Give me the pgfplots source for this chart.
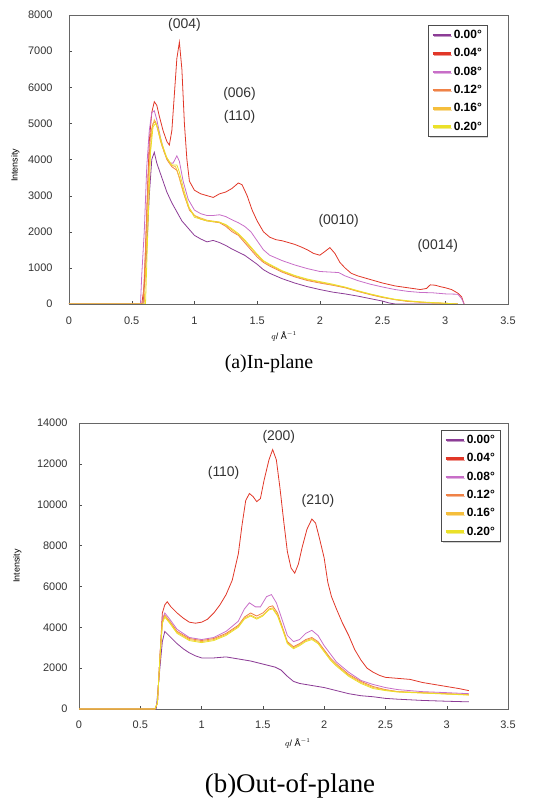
\documentclass[border=0pt]{standalone}
\usepackage{fontspec}
\setmainfont{Liberation Sans}
\newfontfamily\capfont{Liberation Serif}
\usepackage{pgfplots}
\pgfplotsset{compat=1.18}
\usetikzlibrary{shadows}

\definecolor{c00}{RGB}{140,60,150}
\definecolor{c04}{RGB}{225,55,40}
\definecolor{c08}{RGB}{200,110,200}
\definecolor{c12}{RGB}{240,130,70}
\definecolor{c16}{RGB}{245,190,60}
\definecolor{c20}{RGB}{235,225,40}

\pgfplotsset{
  xrd/.style={
    scale only axis,
    anchor=south west,
    xmin=0, xmax=3.5,
    xtick={0,0.5,...,3.5},
    ymin=0,
    scaled y ticks=false,
    axis line style={black!60, line width=0.6bp},
    tick style={black!70},
    tick align=inside,
    major tick length=3bp,
    xtick pos=bottom, ytick pos=left,
    /pgf/number format/assume math mode=true,
    /pgf/number format/set thousands separator={},
    ticklabel style={font=\fontsize{11}{12}\selectfont, text=black!80},
    xlabel={\fontsize{9}{10}\selectfont $q$/ Å$^{-1}$},
    ylabel={\fontsize{9}{10}\selectfont Intensity},
    every axis plot/.append style={line width=0.8bp, no marks},
    legend cell align=left,
    legend image code/.code={\draw[line width=2.5bp] (0bp,0bp) -- (18bp,0bp);},
    legend style={font=\fontsize{12}{13}\selectfont\bfseries, draw=black!70,
      fill=white, inner sep=3bp, row sep=4.5bp,
      drop shadow={shadow xshift=1.5bp, shadow yshift=-1.5bp, fill=black!35}},
  }
}

\begin{document}
\begin{tikzpicture}
\path[use as bounding box] (0,0) rectangle (542bp,798bp);

% (a) in-plane
\begin{axis}[xrd,
  at={(69bp,494bp)}, width=439bp, height=289bp,
  ymax=8000, ytick={0,1000,...,8000},
  yticklabel style={xshift=-13bp},
  xticklabel style={yshift=-9bp},
  xlabel style={at={(0.49,0)}, anchor=north, yshift=-24bp},
  ylabel style={at={(0,0.48)}, anchor=south, xshift=0bp, yshift=46bp},
  legend style={at={(1,1)}, anchor=north east, xshift=-21bp, yshift=-10bp},
]
\addplot[c00] coordinates {(0.00,0)(0.59,0)(0.62,1500)(0.64,3000)(0.66,4000)(0.68,4200)(0.70,3900)(0.74,3500)(0.78,3100)(0.82,2800)(0.86,2550)(0.90,2300)(0.95,2100)(1.00,1900)(1.05,1800)(1.10,1720)(1.15,1760)(1.20,1700)(1.25,1620)(1.30,1520)(1.40,1350)(1.50,1100)(1.55,950)(1.60,850)(1.70,700)(1.80,580)(1.90,480)(2.00,400)(2.10,330)(2.20,280)(2.30,220)(2.40,150)(2.50,80)(2.55,30)(2.60,0)(3.10,0)};
\addplot[c04] coordinates {(0.00,0)(0.58,0)(0.60,500)(0.62,2500)(0.64,4500)(0.66,5300)(0.68,5600)(0.70,5500)(0.72,5200)(0.75,4800)(0.78,4500)(0.80,4400)(0.82,4800)(0.84,5800)(0.86,6800)(0.88,7250)(0.90,6500)(0.92,5000)(0.94,4000)(0.96,3400)(1.00,3150)(1.05,3050)(1.10,3000)(1.15,2950)(1.20,3050)(1.25,3100)(1.30,3200)(1.35,3350)(1.38,3300)(1.42,3000)(1.46,2600)(1.50,2300)(1.55,2000)(1.60,1850)(1.65,1780)(1.70,1750)(1.75,1700)(1.80,1650)(1.85,1580)(1.90,1500)(1.95,1400)(2.00,1350)(2.05,1480)(2.08,1560)(2.12,1400)(2.16,1150)(2.20,1000)(2.25,850)(2.30,780)(2.40,680)(2.50,580)(2.60,500)(2.70,450)(2.80,400)(2.85,430)(2.88,530)(2.92,520)(2.96,480)(3.00,450)(3.05,400)(3.10,300)(3.13,200)(3.15,0)};
\addplot[c08] coordinates {(0.00,0)(0.57,0)(0.58,800)(0.60,2000)(0.62,3800)(0.64,4800)(0.66,5300)(0.68,5350)(0.70,5100)(0.73,4600)(0.76,4200)(0.80,3900)(0.83,3900)(0.86,4100)(0.88,3950)(0.91,3400)(0.95,2900)(1.00,2600)(1.05,2500)(1.10,2450)(1.15,2450)(1.20,2470)(1.25,2420)(1.30,2330)(1.35,2250)(1.40,2150)(1.45,2000)(1.50,1750)(1.55,1500)(1.60,1350)(1.70,1200)(1.80,1080)(1.90,980)(2.00,900)(2.10,880)(2.15,870)(2.20,780)(2.30,650)(2.40,550)(2.50,470)(2.60,400)(2.70,350)(2.80,320)(2.90,310)(3.00,280)(3.10,270)(3.13,150)(3.15,0)};
\addplot[c12] coordinates {(0.00,0)(0.59,0)(0.61,1500)(0.63,3500)(0.65,4700)(0.67,5000)(0.69,5050)(0.71,4800)(0.74,4400)(0.78,4000)(0.82,3800)(0.86,3700)(0.88,3500)(0.92,3000)(0.96,2600)(1.00,2450)(1.05,2350)(1.10,2300)(1.20,2250)(1.25,2150)(1.30,2000)(1.35,1900)(1.40,1700)(1.45,1500)(1.50,1300)(1.55,1150)(1.60,1050)(1.70,880)(1.80,750)(1.90,650)(2.00,580)(2.10,520)(2.20,450)(2.30,350)(2.40,260)(2.50,180)(2.60,120)(2.70,70)(2.80,50)(2.90,30)(3.00,20)(3.10,0)};
\addplot[c16] coordinates {(0.00,0)(0.60,0)(0.62,1800)(0.64,3800)(0.66,4800)(0.68,5100)(0.70,4950)(0.73,4500)(0.77,4100)(0.81,3850)(0.85,3800)(0.87,3600)(0.91,3100)(0.95,2700)(1.00,2450)(1.05,2380)(1.10,2320)(1.20,2270)(1.25,2180)(1.30,2050)(1.35,1920)(1.40,1750)(1.45,1550)(1.50,1350)(1.55,1180)(1.60,1080)(1.70,900)(1.80,770)(1.90,670)(2.00,600)(2.10,530)(2.20,460)(2.30,360)(2.40,270)(2.50,190)(2.60,120)(2.70,80)(2.80,50)(2.90,30)(3.00,20)(3.10,0)};
\addplot[c20] coordinates {(0.00,0)(0.61,0)(0.63,2200)(0.65,4200)(0.67,4900)(0.69,5000)(0.71,4850)(0.74,4450)(0.78,4050)(0.82,3850)(0.86,3850)(0.88,3650)(0.92,3100)(0.96,2650)(1.00,2400)(1.05,2350)(1.10,2300)(1.20,2260)(1.25,2200)(1.30,2080)(1.35,1950)(1.40,1780)(1.45,1580)(1.50,1380)(1.55,1200)(1.60,1100)(1.70,920)(1.80,790)(1.90,690)(2.00,620)(2.10,550)(2.20,470)(2.30,370)(2.40,280)(2.50,200)(2.60,130)(2.70,90)(2.80,60)(2.90,40)(3.00,20)(3.10,0)};
\legend{0.00°,0.04°,0.08°,0.12°,0.16°,0.20°}
\node[font=\fontsize{14}{16}\selectfont, text=black!80] at (axis cs:0.92,7720) {(004)};
\node[font=\fontsize{14}{16}\selectfont, text=black!80] at (axis cs:1.36,5820) {(006)};
\node[font=\fontsize{14}{16}\selectfont, text=black!80] at (axis cs:1.36,5180) {(110)};
\node[font=\fontsize{14}{16}\selectfont, text=black!80] at (axis cs:2.15,2300) {(0010)};
\node[font=\fontsize{14}{16}\selectfont, text=black!80] at (axis cs:2.94,1600) {(0014)};
\end{axis}

% (b) out-of-plane
\begin{axis}[xrd,
  at={(79bp,89bp)}, width=429bp, height=286bp,
  ymax=14000, ytick={0,2000,...,14000},
  yticklabel style={xshift=-8bp},
  xticklabel style={yshift=-8bp},
  xlabel style={at={(0.51,0)}, anchor=north, yshift=-26bp},
  ylabel style={at={(0,0.5)}, anchor=south, yshift=54bp},
  legend style={at={(1,1)}, anchor=north east, xshift=-8bp, yshift=-7bp},
]
\addplot[c00] coordinates {(0.00,0)(0.63,0)(0.66,2000)(0.68,3300)(0.70,3800)(0.75,3500)(0.80,3200)(0.85,2950)(0.90,2750)(0.95,2600)(1.00,2500)(1.10,2500)(1.20,2550)(1.30,2450)(1.40,2350)(1.50,2200)(1.60,2050)(1.65,1900)(1.70,1600)(1.75,1350)(1.80,1250)(1.90,1150)(2.00,1050)(2.10,900)(2.20,750)(2.30,650)(2.40,600)(2.50,520)(2.60,480)(2.70,450)(2.80,420)(3.00,380)(3.18,350)};
\addplot[c04] coordinates {(0.00,0)(0.62,0)(0.64,300)(0.66,2500)(0.68,4700)(0.70,5100)(0.72,5250)(0.75,5000)(0.80,4700)(0.85,4450)(0.90,4250)(0.95,4200)(1.00,4250)(1.05,4400)(1.10,4700)(1.15,5100)(1.20,5600)(1.25,6300)(1.30,7600)(1.33,9000)(1.36,10200)(1.39,10550)(1.42,10400)(1.45,10150)(1.48,10300)(1.51,11200)(1.55,12200)(1.58,12700)(1.61,12200)(1.64,10800)(1.67,9200)(1.70,7700)(1.73,6900)(1.76,6650)(1.79,7100)(1.82,7900)(1.86,8800)(1.90,9300)(1.93,9100)(1.96,8400)(2.00,7400)(2.03,6200)(2.06,5500)(2.10,4900)(2.15,4200)(2.20,3600)(2.25,2900)(2.30,2400)(2.35,2000)(2.40,1800)(2.45,1650)(2.50,1550)(2.60,1500)(2.70,1450)(2.80,1300)(2.90,1200)(3.00,1100)(3.10,1000)(3.18,900)};
\addplot[c08] coordinates {(0.00,0)(0.62,0)(0.64,300)(0.66,2500)(0.68,4400)(0.70,4700)(0.74,4400)(0.80,3900)(0.90,3500)(1.00,3400)(1.10,3500)(1.20,3800)(1.30,4300)(1.35,4900)(1.39,5200)(1.44,5000)(1.48,5000)(1.53,5500)(1.57,5600)(1.61,5200)(1.65,4500)(1.70,3600)(1.75,3300)(1.80,3400)(1.85,3700)(1.90,3850)(1.95,3600)(2.00,3100)(2.05,2700)(2.10,2300)(2.20,1800)(2.30,1400)(2.40,1200)(2.50,1050)(2.60,950)(2.80,850)(3.00,800)(3.18,750)};
\addplot[c12] coordinates {(0.00,0)(0.62,0)(0.64,300)(0.66,2500)(0.68,4300)(0.70,4600)(0.74,4300)(0.80,3800)(0.90,3450)(1.00,3350)(1.10,3450)(1.20,3700)(1.30,4100)(1.35,4500)(1.40,4700)(1.45,4550)(1.50,4700)(1.55,5000)(1.58,5050)(1.62,4700)(1.66,4000)(1.70,3300)(1.75,3050)(1.80,3200)(1.85,3400)(1.90,3500)(1.95,3300)(2.00,2900)(2.05,2500)(2.10,2200)(2.20,1700)(2.30,1350)(2.40,1100)(2.50,950)(2.60,850)(2.80,800)(3.00,750)(3.18,700)};
\addplot[c16] coordinates {(0.00,0)(0.62,0)(0.64,300)(0.66,2500)(0.68,4200)(0.70,4550)(0.74,4250)(0.80,3750)(0.90,3400)(1.00,3300)(1.10,3400)(1.20,3650)(1.30,4050)(1.35,4450)(1.40,4600)(1.45,4450)(1.50,4600)(1.55,4900)(1.58,4950)(1.62,4600)(1.66,3950)(1.70,3250)(1.75,3000)(1.80,3150)(1.85,3350)(1.90,3450)(1.95,3250)(2.00,2850)(2.05,2450)(2.10,2150)(2.20,1650)(2.30,1300)(2.40,1050)(2.50,930)(2.60,850)(2.80,790)(3.00,740)(3.18,700)};
\addplot[c20] coordinates {(0.00,0)(0.62,0)(0.64,300)(0.66,2500)(0.68,4200)(0.70,4500)(0.74,4200)(0.80,3700)(0.90,3350)(1.00,3250)(1.10,3350)(1.20,3600)(1.30,4000)(1.35,4400)(1.40,4550)(1.45,4400)(1.50,4550)(1.55,4850)(1.58,4900)(1.62,4550)(1.66,3900)(1.70,3200)(1.75,2950)(1.80,3100)(1.85,3300)(1.90,3400)(1.95,3200)(2.00,2800)(2.05,2400)(2.10,2100)(2.20,1600)(2.30,1250)(2.40,1000)(2.50,900)(2.60,830)(2.80,780)(3.00,730)(3.18,680)};
\legend{0.00°,0.04°,0.08°,0.12°,0.16°,0.20°}
\node[font=\fontsize{14}{16}\selectfont, text=black!80] at (axis cs:1.18,11550) {(110)};
\node[font=\fontsize{14}{16}\selectfont, text=black!80] at (axis cs:1.63,13300) {(200)};
\node[font=\fontsize{14}{16}\selectfont, text=black!80] at (axis cs:1.95,10200) {(210)};
\end{axis}

\node[font=\capfont\fontsize{20}{22}\selectfont] at (269bp,434bp) {(a)In-plane};
\node[font=\capfont\fontsize{27}{30}\selectfont] at (290bp,12bp) {(b)Out-of-plane};
\end{tikzpicture}
\end{document}
